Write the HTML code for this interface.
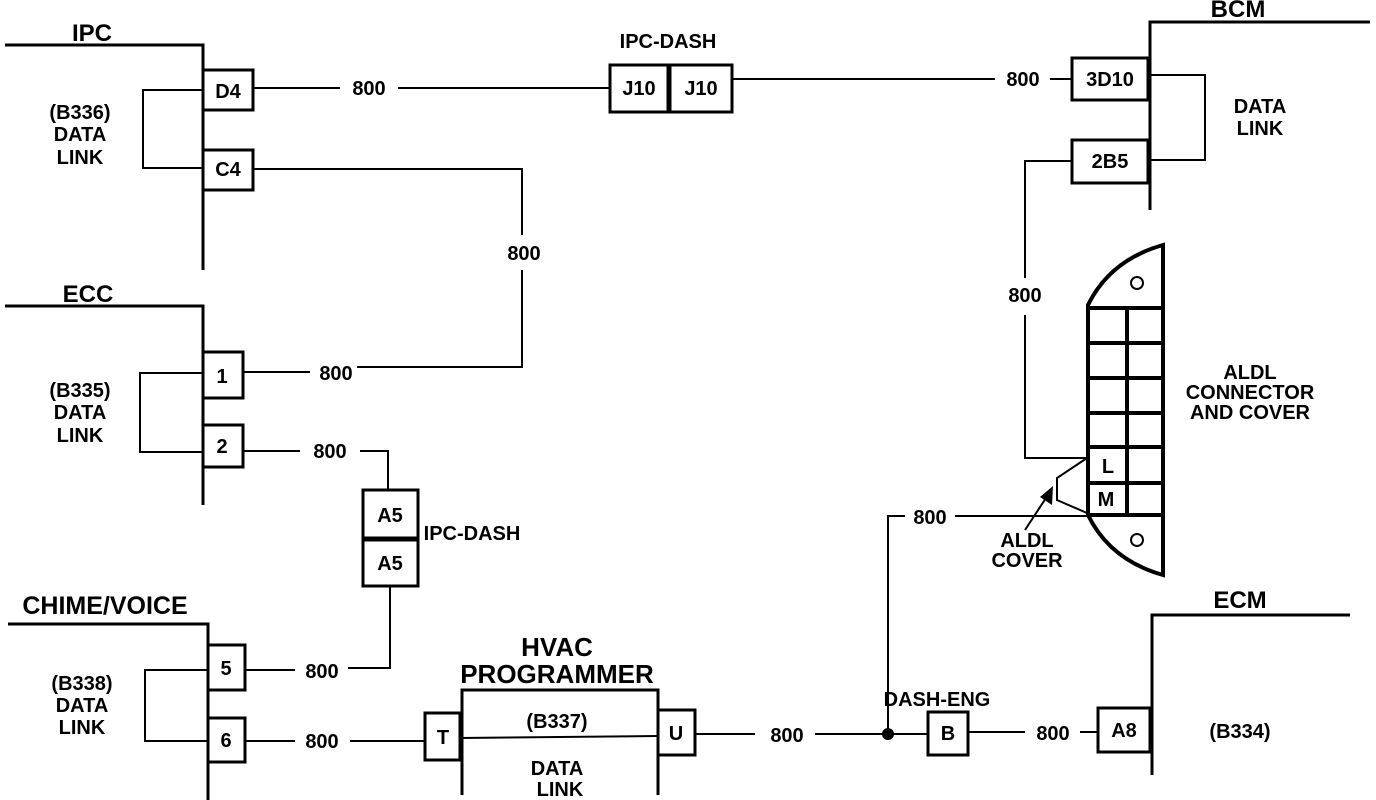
<!DOCTYPE html>
<html><head><style>body{margin:0;background:#fff}svg{display:block}text{font-family:"Liberation Sans",sans-serif;font-weight:bold;text-anchor:middle}</style></head><body>
<svg width="1376" height="800" viewBox="0 0 1376 800" xmlns="http://www.w3.org/2000/svg">
<g fill="none" stroke="#000" stroke-width="2">
<polyline points="5,45 203,45 203,270" stroke-width="3"/>
<rect x="203" y="70" width="50" height="40" stroke-width="3"/>
<rect x="203" y="150" width="50" height="40" stroke-width="3"/>
<polyline points="203,90 143,90 143,168 203,168"/>
<line x1="253" y1="88" x2="340" y2="88"/><line x1="398" y1="88" x2="610" y2="88"/>
<rect x="610" y="65" width="58" height="47" stroke-width="3"/><rect x="670" y="65" width="62" height="47" stroke-width="3"/>
<line x1="732" y1="79" x2="995" y2="79"/><line x1="1050" y1="79" x2="1072" y2="79"/>
<polyline points="1370,22 1150,22 1150,210" stroke-width="3"/>
<rect x="1072" y="58" width="76" height="42" stroke-width="3"/>
<rect x="1072" y="140" width="76" height="43" stroke-width="3"/>
<polyline points="1148,75 1205,75 1205,160 1148,160"/>
<polyline points="1072,161 1025,161 1025,278"/>
<polyline points="1025,315 1025,458 1087,458"/>
<polyline points="253,169 522,169 522,235"/>
<polyline points="522,270 522,367 357,367"/>
<line x1="243" y1="372" x2="310" y2="372"/>
<polyline points="5,306 203,306 203,505" stroke-width="3"/>
<rect x="203" y="352" width="40" height="46" stroke-width="3"/>
<rect x="203" y="425" width="40" height="42" stroke-width="3"/>
<polyline points="203,373 140,373 140,452 203,452"/>
<line x1="243" y1="451" x2="300" y2="451"/>
<polyline points="360,451 388,451 388,490"/>
<rect x="363" y="490" width="55" height="48" stroke-width="3"/>
<rect x="363" y="540" width="55" height="46" stroke-width="3"/>
<polyline points="390,586 390,668 348,668"/>
<line x1="245" y1="670" x2="295" y2="670"/>
<polyline points="8,624 208,624 208,800" stroke-width="3"/>
<rect x="208" y="645" width="37" height="45" stroke-width="3"/>
<rect x="208" y="718" width="37" height="44" stroke-width="3"/>
<polyline points="208,670 145,670 145,741 208,741"/>
<line x1="245" y1="741" x2="295" y2="741"/><line x1="350" y1="741" x2="425" y2="741"/>
<rect x="425" y="713" width="35" height="47" stroke-width="3"/>
<polyline points="462,795 462,690 658,690 658,795" stroke-width="3"/>
<line x1="460" y1="738" x2="658" y2="736"/>
<rect x="658" y="710" width="37" height="45" stroke-width="3"/>
<line x1="695" y1="734" x2="755" y2="734"/><line x1="815" y1="734" x2="928" y2="734"/>
<polyline points="888,734 888,516 905,516"/>
<line x1="955" y1="516" x2="1087" y2="516"/>
<rect x="928" y="712" width="40" height="43" stroke-width="3"/>
<line x1="968" y1="732" x2="1025" y2="732"/><line x1="1080" y1="732" x2="1098" y2="732"/>
<rect x="1098" y="708" width="52" height="44" stroke-width="3"/>
<polyline points="1350,615 1152,615 1152,775" stroke-width="3"/>
<path d="M1088,305 Q1110,260 1163,245 L1163,575 Q1110,560 1088,515 Z" stroke-width="4"/>
<line x1="1127" y1="308" x2="1127" y2="515" stroke-width="4"/>
<g stroke-width="4"><line x1="1088" y1="308" x2="1163" y2="308"/><line x1="1088" y1="343" x2="1163" y2="343"/><line x1="1088" y1="378" x2="1163" y2="378"/><line x1="1088" y1="413" x2="1163" y2="413"/><line x1="1088" y1="447" x2="1163" y2="447"/><line x1="1088" y1="483" x2="1163" y2="483"/><line x1="1088" y1="515" x2="1163" y2="515"/></g>
<circle cx="1137" cy="283" r="6"/><circle cx="1137" cy="540" r="6"/>
<polyline points="1087,458 1057,478 1057,500 1087,513"/>
<line x1="1025" y1="530" x2="1046" y2="498"/>
</g>
<polygon points="1053,486 1052,505 1040,497" fill="#000"/>
<circle cx="888" cy="734" r="6" fill="#000"/>
<g font-size="20">
<text x="92" y="41" font-size="24">IPC</text>
<text x="80" y="119">(B336)</text><text x="80" y="141">DATA</text><text x="80" y="164">LINK</text>
<text x="228" y="98">D4</text><text x="228" y="176">C4</text>
<text x="369" y="95">800</text>
<text x="668" y="48">IPC-DASH</text>
<text x="639" y="95">J10</text><text x="701" y="95">J10</text>
<text x="1023" y="86">800</text>
<text x="1110" y="86">3D10</text><text x="1110" y="168">2B5</text>
<text x="1238" y="17" font-size="24">BCM</text>
<text x="1260" y="113">DATA</text><text x="1260" y="135">LINK</text>
<text x="524" y="260">800</text>
<text x="1025" y="302">800</text>
<text x="88" y="302" font-size="24">ECC</text>
<text x="336" y="380">800</text>
<text x="222" y="383">1</text><text x="222" y="453">2</text>
<text x="80" y="397">(B335)</text><text x="80" y="419">DATA</text><text x="80" y="442">LINK</text>
<text x="330" y="458">800</text>
<text x="390" y="522">A5</text><text x="390" y="570">A5</text>
<text x="472" y="540">IPC-DASH</text>
<text x="1250" y="379">ALDL</text><text x="1250" y="399">CONNECTOR</text><text x="1250" y="419">AND COVER</text>
<text x="1108" y="473">L</text><text x="1106" y="506">M</text>
<text x="930" y="524">800</text>
<text x="1027" y="547">ALDL</text><text x="1027" y="567">COVER</text>
<text x="105" y="614" font-size="25">CHIME/VOICE</text>
<text x="226" y="675">5</text><text x="226" y="747">6</text>
<text x="82" y="690">(B338)</text><text x="82" y="712">DATA</text><text x="82" y="734">LINK</text>
<text x="322" y="678">800</text><text x="322" y="748">800</text>
<text x="443" y="744">T</text>
<text x="557" y="656" font-size="26">HVAC</text><text x="557" y="683" font-size="26">PROGRAMMER</text>
<text x="557" y="728">(B337)</text><text x="557" y="775">DATA</text><text x="560" y="796">LINK</text>
<text x="676" y="740">U</text>
<text x="787" y="742">800</text>
<text x="937" y="706">DASH-ENG</text>
<text x="948" y="740">B</text>
<text x="1053" y="740">800</text>
<text x="1124" y="737">A8</text>
<text x="1240" y="608" font-size="24">ECM</text>
<text x="1240" y="738">(B334)</text>
</g>
</svg>
</body></html>
